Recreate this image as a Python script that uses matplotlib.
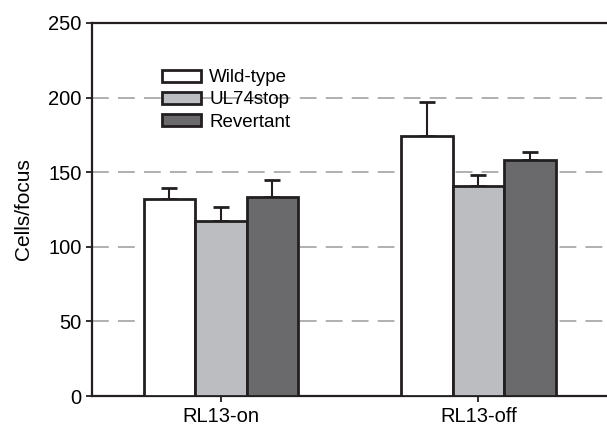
import numpy as np
import matplotlib.pyplot as plt

plt.rcParams['font.family'] = ['Liberation Sans', 'DejaVu Sans']

groups = ["RL13-on", "RL13-off"]
series = ["Wild-type", "UL74stop", "Revertant"]
means = {
    "Wild-type": [132, 174.5],
    "UL74stop": [117, 141],
    "Revertant": [133.5, 158.5],
}
errors = {
    "Wild-type": [7.5, 22.5],
    "UL74stop": [10, 7],
    "Revertant": [11.5, 5],
}
colors = {"Wild-type": "#ffffff", "UL74stop": "#bcbdc0", "Revertant": "#6a6a6c"}

fig = plt.figure(figsize=(6.07, 4.29), dpi=100)
ax = fig.add_axes([0.1516, 0.0769, 0.8484, 0.8695])

x = np.arange(len(groups))
width = 0.2
edge = "#231f20"
for i, name in enumerate(series):
    pos = x + (i - 1) * width
    ax.bar(pos, means[name], width, color=colors[name], edgecolor=edge,
           linewidth=2.0, label=name, zorder=3)
    ax.errorbar(pos, means[name], yerr=[[0] * len(groups), errors[name]],
                fmt="none", ecolor=edge, elinewidth=1.5, capsize=5.5,
                capthick=2.0, zorder=2)

ax.set_xlim(-0.5, 1.5)
ax.set_ylim(0, 250)
ax.set_yticks([0, 50, 100, 150, 200, 250])
ax.set_xticks(x)
ax.set_xticklabels(groups)
ax.set_ylabel("Cells/focus", fontsize=15, labelpad=11)
ax.tick_params(axis="both", labelsize=14.5, width=1.3, color=edge, length=4.5,
               pad=3)
ax.tick_params(axis="x", length=4, pad=4)

for y in [50, 100, 150, 200]:
    ax.axhline(y, color="#9a9a9a", linewidth=1.1, dashes=(11, 6), zorder=1)

for side in ["top", "left", "bottom"]:
    ax.spines[side].set_linewidth(1.6)
    ax.spines[side].set_color(edge)
ax.spines["right"].set_visible(False)

ax.legend(loc="upper left", bbox_to_anchor=(0.135, 0.876), frameon=False,
          fontsize=13.5, handlelength=2.1, handleheight=0.6, labelspacing=0.28,
          handletextpad=0.45, borderpad=0, borderaxespad=0)

fig.savefig("out.png", dpi=100)
